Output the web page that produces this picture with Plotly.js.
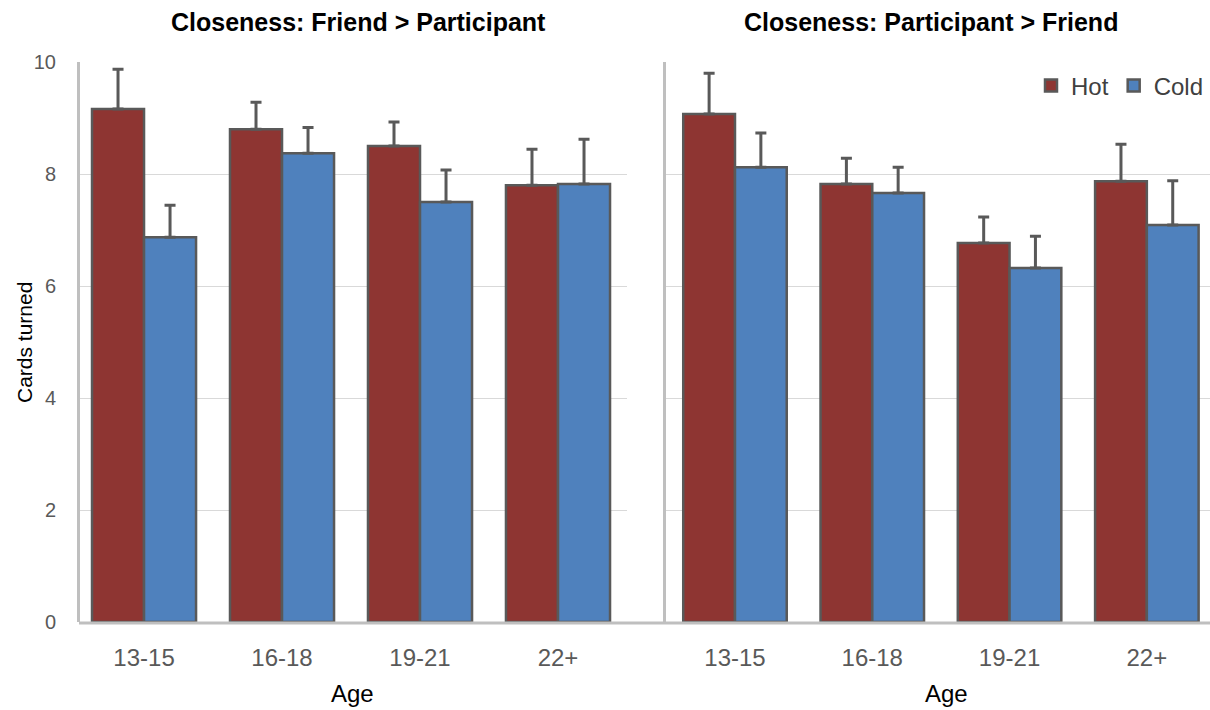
<!DOCTYPE html>
<html>
<head>
<meta charset="utf-8">
<script src="https://cdn.plot.ly/plotly-3.0.1.min.js"></script>
<style>html,body{margin:0;padding:0;background:#fff;}#chart{width:1210px;height:710px;}</style>
</head>
<body>
<div id="chart"></div>
<script>
const ages = ["13-15", "16-18", "19-21", "22+"];
const panelTitles = ["Closeness: Friend > Participant", "Closeness: Participant > Friend"];

// Panel 1: Friend > Participant
const hot1 = [9.16, 8.80, 8.50, 7.80];
const hot1Err = [0.71, 0.48, 0.43, 0.64];
const cold1 = [6.87, 8.37, 7.50, 7.82];
const cold1Err = [0.57, 0.46, 0.57, 0.80];

// Panel 2: Participant > Friend
const hot2 = [9.07, 7.82, 6.77, 7.87];
const hot2Err = [0.73, 0.46, 0.46, 0.66];
const cold2 = [8.12, 7.66, 6.32, 7.09];
const cold2Err = [0.61, 0.46, 0.57, 0.79];

const HOT = "#8E3532";
const COLD = "#4F81BD";
const EDGE = "#595959";
const W = 1210, H = 710;
const px = x => x / W;
const py = y => (H - y) / H;
const FONT = "Liberation Sans, Arial, sans-serif";

function barTrace(name, vals, errs, color, xa, ya, showLeg) {
  return {
    type: "bar", name: name, x: ages, y: vals, xaxis: xa, yaxis: ya,
    showlegend: showLeg, legendgroup: name,
    marker: {color: color, line: {color: EDGE, width: 2.5}},
    error_y: {type: "data", symmetric: false, array: errs, arrayminus: errs.map(() => 0),
              color: EDGE, thickness: 3, width: 5.5}
  };
}

const data = [
  barTrace("Hot", hot1, hot1Err, HOT, "x", "y", false),
  barTrace("Cold", cold1, cold1Err, COLD, "x", "y", false),
  barTrace("Hot", hot2, hot2Err, HOT, "x2", "y2", true),
  barTrace("Cold", cold2, cold2Err, COLD, "x2", "y2", true)
];

const tickFont = {family: FONT, size: 24, color: "#595959"};
const yDom = [py(622), py(62)];

const layout = {
  width: W, height: H,
  margin: {l: 0, r: 0, t: 0, b: 0},
  paper_bgcolor: "#fff", plot_bgcolor: "rgba(0,0,0,0)",
  barmode: "group", bargap: 0.246, bargroupgap: 0,
  font: {family: FONT},
  xaxis: {domain: [px(80), px(627)], range: [-0.464, 3.5], type: "category",
          showgrid: false, showline: false, zeroline: false,
          ticks: "outside", ticklen: 14, tickcolor: "rgba(0,0,0,0)", tickfont: tickFont},
  xaxis2: {domain: [px(666), 1], range: [-0.5025, 3.46], type: "category", anchor: "y2",
           showgrid: false, showline: false, zeroline: false,
           ticks: "outside", ticklen: 14, tickcolor: "rgba(0,0,0,0)", tickfont: tickFont},
  yaxis: {domain: yDom, range: [0, 10], dtick: 2, showgrid: true, gridcolor: "#d9d9d9", gridwidth: 1,
          zeroline: false, showline: true, linecolor: "#bfbfbf", linewidth: 3,
          ticks: "outside", ticklen: 17, tickcolor: "rgba(0,0,0,0)",
          tickfont: {family: FONT, size: 20, color: "#595959"}},
  yaxis2: {domain: yDom, range: [0, 10], dtick: 2, anchor: "x2", showgrid: true, gridcolor: "#d9d9d9", gridwidth: 1,
           zeroline: false, showline: true, linecolor: "#bfbfbf", linewidth: 3, showticklabels: false},
  legend: {orientation: "h", x: px(1209), xanchor: "right", y: py(86), yanchor: "middle",
           font: {family: FONT, size: 24, color: "#404040"},
           bgcolor: "rgba(0,0,0,0)", itemwidth: 30, traceorder: "normal"},
  shapes: [
    {type: "line", xref: "paper", yref: "paper", x0: px(79), x1: 1, y0: py(623), y1: py(623),
     line: {color: "#bfbfbf", width: 3}}
  ],
  annotations: [
    {text: "<b>" + panelTitles[0].replace(">", "&gt;") + "</b>", xref: "paper", yref: "paper",
     x: px(358), y: py(22), xanchor: "center", yanchor: "middle", showarrow: false,
     font: {size: 25, color: "#000"}},
    {text: "<b>" + panelTitles[1].replace(">", "&gt;") + "</b>", xref: "paper", yref: "paper",
     x: px(931), y: py(22), xanchor: "center", yanchor: "middle", showarrow: false,
     font: {size: 25, color: "#000"}},
    {text: "Cards turned", xref: "paper", yref: "paper", x: px(24), y: py(343),
     xanchor: "center", yanchor: "middle", textangle: -90, showarrow: false,
     font: {size: 21, color: "#000"}},
    {text: "Age", xref: "paper", yref: "paper", x: px(352), y: py(693),
     xanchor: "center", yanchor: "middle", showarrow: false, font: {size: 24, color: "#000"}},
    {text: "Age", xref: "paper", yref: "paper", x: px(946), y: py(693),
     xanchor: "center", yanchor: "middle", showarrow: false, font: {size: 24, color: "#000"}}
  ]
};

Plotly.newPlot("chart", data, layout, {displayModeBar: false, staticPlot: true});
</script>
</body>
</html>
